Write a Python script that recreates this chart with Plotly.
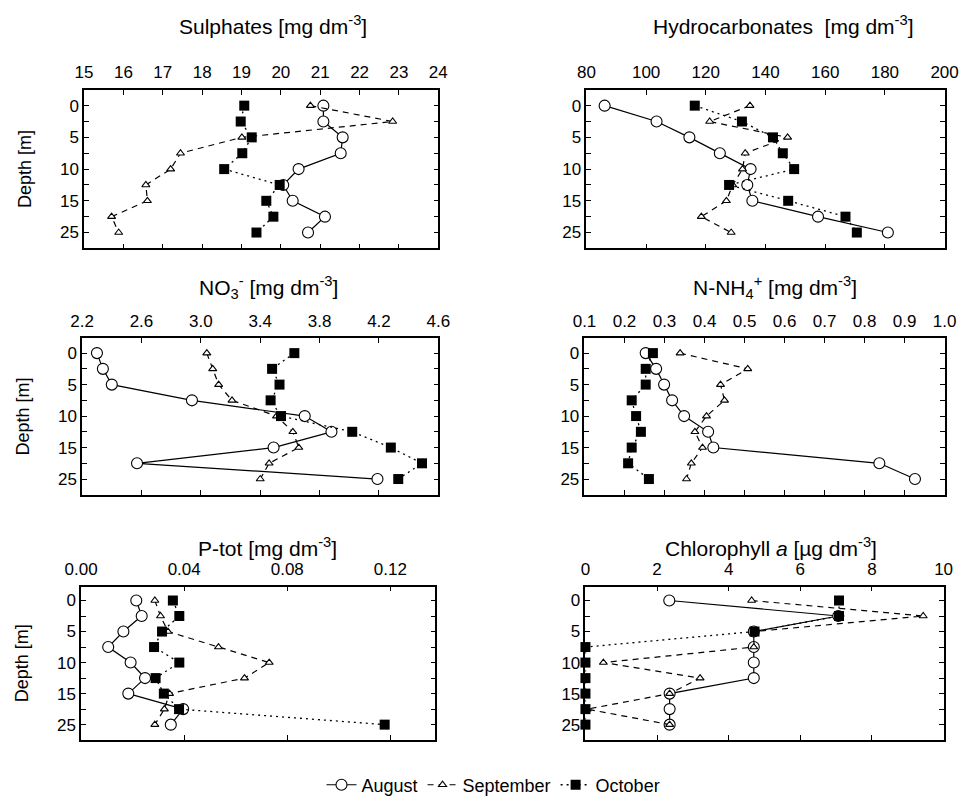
import plotly.graph_objects as go

# ---- data ----
depth_index = [0, 1, 2, 3, 4, 5, 6, 7, 8]
depth_major = [0, 2, 4, 6, 8]
depth_minor = [1, 3, 5, 7]
depth_labels = ["0", "5", "10", "15", "25"]

sulphates_aug = [21.08, 21.08, 21.57, 21.52, 20.45, 20.06, 20.30, 21.12, 20.69]
sulphates_sep = [20.75, 22.84, 19.01, 17.45, 17.20, 16.57, 16.61, 15.70, 15.88]
sulphates_oct = [19.07, 18.98, 19.26, 19.02, 18.56, 19.97, 19.63, 19.81, 19.38]

hydro_aug = [86.1, 103.5, 114.5, 124.7, 135.0, 133.9, 135.6, 157.6, 181.0]
hydro_sep = [134.8, 121.3, 147.4, 133.2, 132.3, 129.0, 126.9, 118.5, 128.5]
hydro_oct = [116.3, 132.1, 142.5, 145.8, 149.6, 127.8, 147.6, 166.8, 170.6]

no3_aug = [2.30, 2.34, 2.40, 2.94, 3.70, 3.88, 3.49, 2.57, 4.19]
no3_sep = [3.04, 3.08, 3.12, 3.21, 3.51, 3.62, 3.66, 3.46, 3.40]
no3_oct = [3.63, 3.48, 3.53, 3.47, 3.54, 4.02, 4.28, 4.49, 4.33]

nh4_aug = [0.253, 0.279, 0.299, 0.319, 0.349, 0.409, 0.422, 0.837, 0.926]
nh4_sep = [0.339, 0.508, 0.440, 0.450, 0.405, 0.376, 0.395, 0.367, 0.355]
nh4_oct = [0.271, 0.253, 0.253, 0.218, 0.229, 0.241, 0.218, 0.209, 0.261]

ptot_aug = [0.0214, 0.0235, 0.0164, 0.0105, 0.0192, 0.0248, 0.0183, 0.0396, 0.0348]
ptot_sep = [0.0286, 0.0308, 0.0337, 0.0533, 0.0730, 0.0634, 0.0343, 0.0323, 0.0286]
ptot_oct = [0.0356, 0.0381, 0.0314, 0.0283, 0.0381, 0.0289, 0.0321, 0.0380, 0.1178]

chl_aug = [2.34, 7.06, 4.70, 4.70, 4.70, 4.70, 2.35, 2.35, 2.35]
chl_sep = [4.64, 9.43, 4.72, 4.70, 0.50, 3.20, 2.35, 0.05, 2.35]
chl_oct = [7.08, 7.08, 4.72, 0.0, 0.0, 0.0, 0.0, 0.0, 0.0]

months = ["August", "September", "October"]

panels = [
    ("Sulphates [mg dm<sup>-3</sup>]", [sulphates_aug, sulphates_sep, sulphates_oct],
     [15, 24], list(range(15, 25)), [str(v) for v in range(15, 25)]),
    ("Hydrocarbonates  [mg dm<sup>-3</sup>]", [hydro_aug, hydro_sep, hydro_oct],
     [80, 200], [80, 100, 120, 140, 160, 180, 200], ["80", "100", "120", "140", "160", "180", "200"]),
    ("NO<sub>3</sub><sup>-</sup> [mg dm<sup>-3</sup>]", [no3_aug, no3_sep, no3_oct],
     [2.2, 4.6], [2.2, 2.6, 3.0, 3.4, 3.8, 4.2, 4.6], ["2.2", "2.6", "3.0", "3.4", "3.8", "4.2", "4.6"]),
    ("N-NH<sub>4</sub><sup>+</sup> [mg dm<sup>-3</sup>]", [nh4_aug, nh4_sep, nh4_oct],
     [0.1, 1.0], [0.1, 0.2, 0.3, 0.4, 0.5, 0.6, 0.7, 0.8, 0.9, 1.0],
     ["0.1", "0.2", "0.3", "0.4", "0.5", "0.6", "0.7", "0.8", "0.9", "1.0"]),
    ("P-tot [mg dm<sup>-3</sup>]", [ptot_aug, ptot_sep, ptot_oct],
     [0.0, 0.1375], [0.0, 0.04, 0.08, 0.12], ["0.00", "0.04", "0.08", "0.12"]),
    ("Chlorophyll <i>a</i> [µg dm<sup>-3</sup>]", [chl_aug, chl_sep, chl_oct],
     [0, 10], [0, 2, 4, 6, 8, 10], ["0", "2", "4", "6", "8", "10"]),
]

W, H = 968, 796
FONT = "Liberation Sans, Arial, sans-serif"

# pixel boxes (left, right, top, bottom)
boxes = [
    (61, 427, 82, 241), (580, 950, 82, 241),
    (59, 427, 331, 488), (578, 950, 331, 488),
    (58, 424, 580, 734), (579, 949, 580, 734),
]
title_pos = [(256, 17), (784, 17), (252, 280), (775, 280), (251, 540), (771, 540)]
yranges = [[9, -1], [9, -1], [9, -0.95], [9, -0.95], [9, -0.9], [9, -0.9]]

styles = [
    dict(line=dict(color="black", width=1.2, dash="solid"),
         marker=dict(symbol="circle", size=11, color="white", line=dict(color="black", width=1.1))),
    dict(line=dict(color="black", width=1.2, dash="6px,5px"),
         marker=dict(symbol="triangle-up", size=7, color="white", line=dict(color="black", width=1.1))),
    dict(line=dict(color="black", width=1.3, dash="2px,4px"),
         marker=dict(symbol="square", size=10, color="black", line=dict(color="black", width=0))),
]

fig = go.Figure()
annotations = []
layout = {}
for i, (title, series, xr, tv, tt) in enumerate(panels):
    n = i + 1
    xa = "x" if n == 1 else f"x{n}"
    ya = "y" if n == 1 else f"y{n}"
    for j, vals in enumerate(series):
        fig.add_trace(go.Scatter(
            x=vals, y=depth_index, mode="lines+markers", name=months[j],
            xaxis=xa, yaxis=ya, showlegend=(n == 1), cliponaxis=False,
            line=styles[j]["line"], marker=styles[j]["marker"]))
    l, r, t, b = boxes[i]
    xkey = "xaxis" if n == 1 else f"xaxis{n}"
    ykey = "yaxis" if n == 1 else f"yaxis{n}"
    layout[xkey] = dict(
        domain=[l / W, r / W], anchor=ya, side="top", range=xr,
        tickvals=tv, ticktext=tt, ticks="inside", ticklen=5, tickwidth=1,
        tickcolor="black", showline=True, linecolor="black", linewidth=1.5,
        mirror="ticks", showgrid=False, zeroline=False, ticklabelstandoff=3,
        tickfont=dict(family=FONT, size=17, color="black"))
    ydict = dict(
        domain=[1 - b / H, 1 - t / H], anchor=xa, range=yranges[i],
        tickvals=depth_major, ticktext=depth_labels, ticks="inside", ticklen=5,
        tickwidth=1, tickcolor="black", showline=True, linecolor="black",
        linewidth=1.5, mirror="ticks", showgrid=False, zeroline=False,
        minor=dict(tickvals=depth_minor, ticks="inside", ticklen=5,
                   tickcolor="black", tickwidth=1, showgrid=False),
        tickfont=dict(family=FONT, size=17, color="black"))
    if i % 2 == 0:
        ydict["title"] = dict(text="Depth [m]", standoff=24,
                              font=dict(family=FONT, size=18, color="black"))
    layout[ykey] = ydict
    tx, ty = title_pos[i]
    annotations.append(dict(
        text=title, x=tx / W, y=1 - ty / H, xref="paper", yref="paper",
        showarrow=False, xanchor="center", yanchor="middle",
        font=dict(family=FONT, size=21, color="black")))

fig.update_layout(
    width=W, height=H, margin=dict(l=0, r=0, t=0, b=0),
    paper_bgcolor="white", plot_bgcolor="white",
    font=dict(family=FONT, size=17, color="black"),
    annotations=annotations,
    legend=dict(orientation="h", x=0.5, xanchor="center", y=1 - 779 / H,
                yanchor="middle", font=dict(family=FONT, size=18, color="black"),
                itemwidth=30, bgcolor="rgba(0,0,0,0)"),
    **layout)

fig.write_html("out.html")
